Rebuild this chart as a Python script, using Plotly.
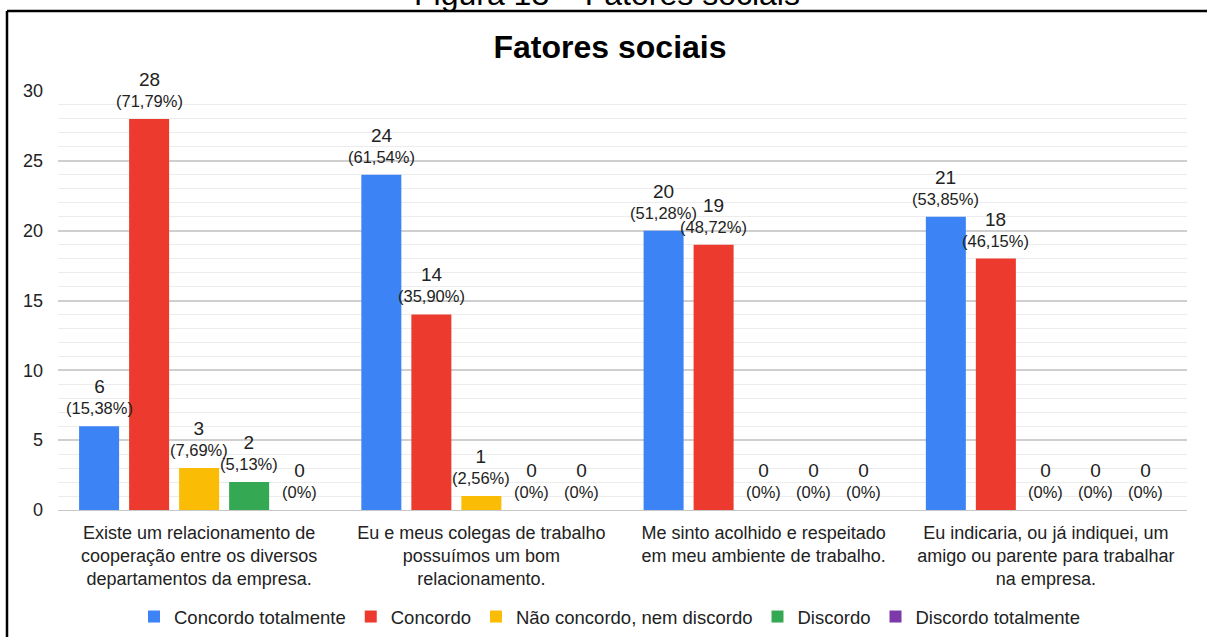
import plotly.graph_objects as go

# Survey statements (x-axis categories)
categories = [
    "Existe um relacionamento de<br>cooperação entre os diversos<br>departamentos da empresa.",
    "Eu e meus colegas de trabalho<br>possuímos um bom<br>relacionamento.",
    "Me sinto acolhido e respeitado<br>em meu ambiente de trabalho.",
    "Eu indicaria, ou já indiquei, um<br>amigo ou parente para trabalhar<br>na empresa.",
]

# Answer counts per response option
concordo_totalmente = [6, 24, 20, 21]
concordo = [28, 14, 19, 18]
nem_concordo_nem_discordo = [3, 1, 0, 0]
discordo = [2, 0, 0, 0]
discordo_totalmente = [0, 0, 0, 0]

respondentes = 39

series_names = [
    "Concordo totalmente",
    "Concordo",
    "Não concordo, nem discordo",
    "Discordo",
    "Discordo totalmente",
]
series_values = [
    concordo_totalmente,
    concordo,
    nem_concordo_nem_discordo,
    discordo,
    discordo_totalmente,
]
series_colors = ["#3C83F5", "#EC3B2E", "#FBBC05", "#34A853", "#7B3AA8"]

y_ticks = [0, 5, 10, 15, 20, 25, 30]

FONT = "Liberation Sans, Arial, sans-serif"
W, H = 1207, 637
ML, MR, MT, MB = 58, 20, 91, 127
BARGAP, BARGROUPGAP = 0.114, 0.2

plot_w = W - ML - MR
plot_h = H - MT - MB
# width of one bar slot inside a category group, in pixels
slot_px = plot_w / len(categories) * (1 - BARGAP) / len(series_names)


def px_to_paper(px, py):
    """Convert page pixel coordinates to paper coordinates of the plot area."""
    return (px - ML) / plot_w, (H - MB - py) / plot_h


def label(v):
    if v == 0:
        pct = "0%"
    else:
        pct = "{:.2f}%".format(v / respondentes * 100).replace(".", ",")
    return f"<span style='font-size:19px'>{v}</span><br>({pct})"


fig = go.Figure()
annotations = []
n = len(series_names)
for i, (name, vals, color) in enumerate(zip(series_names, series_values, series_colors)):
    fig.add_trace(
        go.Bar(
            name=name,
            x=categories,
            y=vals,
            marker=dict(color=color, line=dict(width=0)),
            hoverinfo="skip",
        )
    )
    # value labels sit above each bar of this series
    for cat, v in zip(categories, vals):
        annotations.append(
            dict(
                x=cat, y=v, xref="x", yref="y",
                xshift=(i - (n - 1) / 2) * slot_px,
                yshift=7,
                yanchor="bottom", xanchor="center",
                text=label(v), showarrow=False,
                font=dict(family=FONT, size=16.5, color="#222222"),
                align="center",
            )
        )

# Frame lines around the chart box
x0, ytop = px_to_paper(7, 11)
x1, ybot = px_to_paper(W, H + 2)
shapes = [
    dict(type="line", xref="paper", yref="paper", x0=x0, x1=x1, y0=ytop, y1=ytop,
         line=dict(color="#000000", width=2.5)),
    dict(type="line", xref="paper", yref="paper", x0=x0, x1=x0, y0=ytop, y1=ybot,
         line=dict(color="#000000", width=2.5)),
]

hx, hy = px_to_paper(607, -6)
annotations.append(
    dict(text="Figura 13 – Fatores sociais", xref="paper", yref="paper",
         x=hx, y=hy, xanchor="center", yanchor="middle", showarrow=False,
         font=dict(family=FONT, size=32, color="#000000"))
)

fig.update_layout(
    width=W,
    height=H,
    margin=dict(l=ML, r=MR, t=MT, b=MB, autoexpand=False),
    paper_bgcolor="#ffffff",
    plot_bgcolor="#ffffff",
    barmode="group",
    bargap=BARGAP,
    bargroupgap=BARGROUPGAP,
    title=dict(
        text="<b>Fatores sociais</b>",
        x=610 / W, xanchor="center", xref="container",
        y=1 - 47 / H, yanchor="middle", yref="container",
        font=dict(family=FONT, size=32, color="#000000"),
    ),
    font=dict(family=FONT, size=18, color="#222222"),
    showlegend=True,
    legend=dict(
        orientation="h",
        xref="container", yref="container",
        x=610 / W, xanchor="center",
        y=1 - 617 / H, yanchor="middle",
        font=dict(family=FONT, size=18.5, color="#222222"),
        bgcolor="rgba(0,0,0,0)",
    ),
    xaxis=dict(
        type="category",
        automargin=False,
        showgrid=False,
        showline=True,
        linecolor="#c8c8c8",
        linewidth=1,
        ticks="",
        tickfont=dict(family=FONT, size=18, color="#222222"),
        ticklabelstandoff=6,
        fixedrange=True,
    ),
    yaxis=dict(
        range=[0, 30],
        automargin=False,
        tickvals=y_ticks,
        showgrid=True,
        gridcolor="#cfcfcf",
        gridwidth=1.5,
        zeroline=False,
        ticks="",
        tickfont=dict(family=FONT, size=18, color="#222222"),
        ticklabelstandoff=14,
        minor=dict(dtick=1, showgrid=True, gridcolor="#ececec", gridwidth=1),
        fixedrange=True,
    ),
    shapes=shapes,
    annotations=annotations,
)

fig.write_html("out.html")
